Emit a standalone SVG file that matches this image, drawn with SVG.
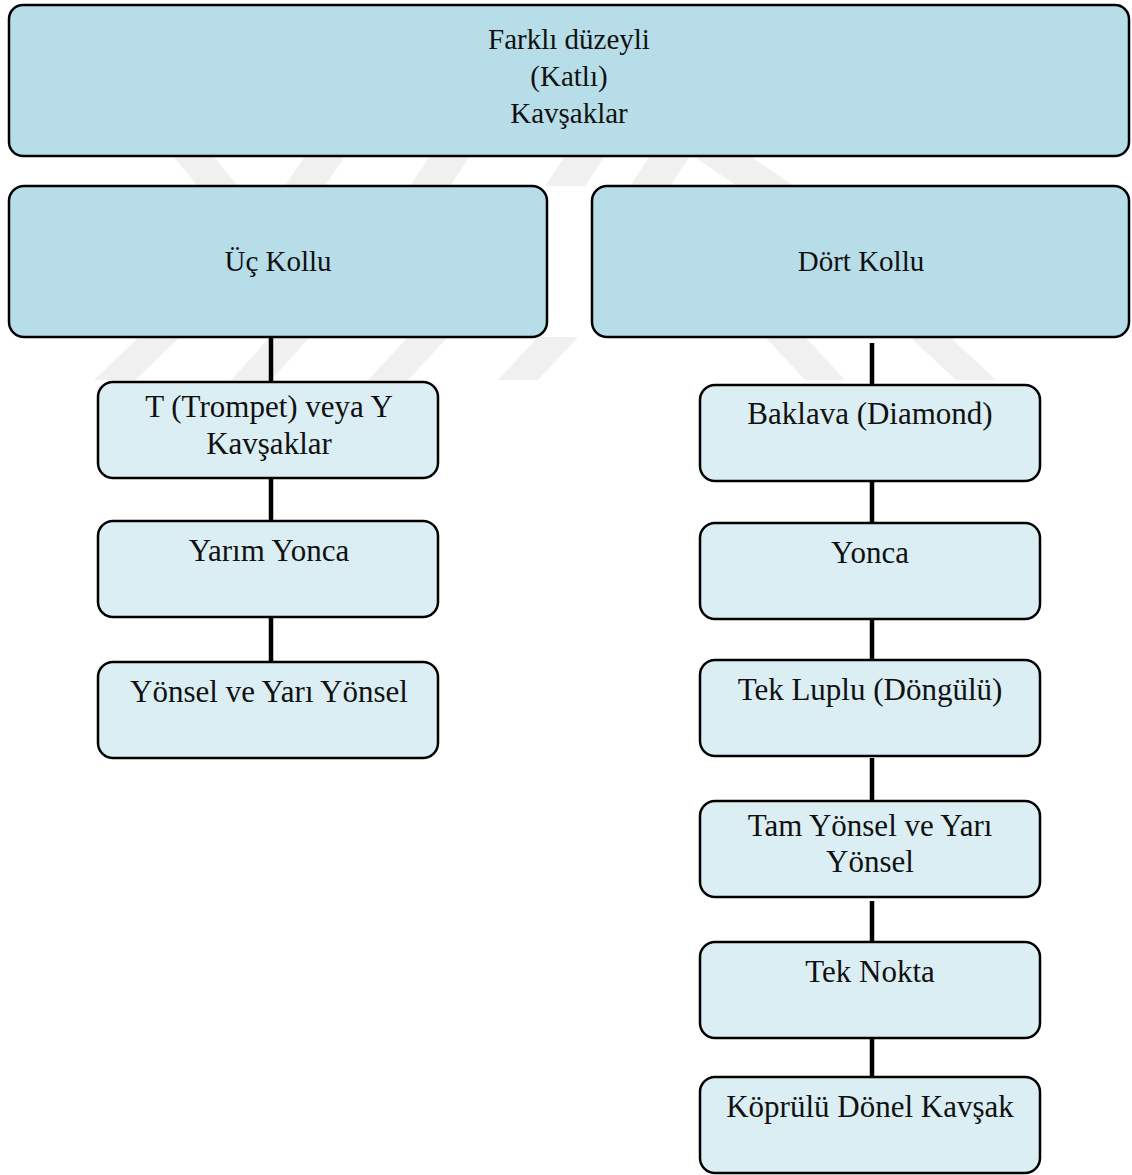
<svg xmlns="http://www.w3.org/2000/svg" width="1132" height="1175" viewBox="0 0 1132 1175">
  <style>
    .main { fill: #b7dde8; stroke: #000; stroke-width: 2.5; }
    .sub { fill: #daeef3; stroke: #000; stroke-width: 2.5; }
    .lbl { font-family: "Liberation Serif", "Times New Roman", serif; fill: #111; text-anchor: middle; }
    .big { font-size: 29px; }
    .small { font-size: 31px; }
    .link { stroke: #000; stroke-width: 4.5; fill: none; }
    .mark { fill: #f0f0f0; }
  </style>
  <rect width="1132" height="1175" fill="#fff"/>

  <!-- faint background stripes -->
  <g id="backdrop">
    <polygon class="mark" points="173,156 213,156 238,186 198,186"/>
    <polygon class="mark" points="305,156 345,156 325,186 285,186"/>
    <polygon class="mark" points="430,156 470,156 450,186 410,186"/>
    <polygon class="mark" points="565,156 605,156 585,186 545,186"/>
    <polygon class="mark" points="650,156 690,156 670,186 630,186"/>
    <polygon class="mark" points="693,156 750,156 794,186 737,186"/>
    <polygon class="mark" points="139,337 180,337 135,380 94,380"/>
    <polygon class="mark" points="270,337 310,337 271,380 231,380"/>
    <polygon class="mark" points="408,337 448,337 408,380 368,380"/>
    <polygon class="mark" points="538,337 578,337 538,380 498,380"/>
    <polygon class="mark" points="765,337 805,337 845,380 805,380"/>
    <polygon class="mark" points="910,337 950,337 996,380 956,380"/>
  </g>

  <!-- connectors -->
  <g id="connectors">
    <line class="link" x1="271" y1="337" x2="271" y2="382"/>
    <line class="link" x1="271" y1="478" x2="271" y2="521"/>
    <line class="link" x1="271" y1="617" x2="271" y2="662"/>
    <line class="link" x1="872" y1="343" x2="872" y2="385"/>
    <line class="link" x1="872" y1="481" x2="872" y2="523"/>
    <line class="link" x1="872" y1="620" x2="872" y2="660"/>
    <line class="link" x1="872" y1="758" x2="872" y2="801"/>
    <line class="link" x1="872" y1="901" x2="872" y2="942"/>
    <line class="link" x1="872" y1="1036" x2="872" y2="1077"/>
  </g>

  <g id="root">
    <rect class="main" x="9" y="5" width="1120" height="151" rx="14"/>
    <text class="lbl big" x="569" y="49">Farklı düzeyli</text>
    <text class="lbl big" x="569" y="86">(Katlı)</text>
    <text class="lbl big" x="569" y="123">Kavşaklar</text>
  </g>

  <g id="uc-kollu">
    <rect class="main" x="9" y="186" width="538" height="151" rx="15"/>
    <text class="lbl big" x="278" y="271">Üç Kollu</text>
  </g>

  <g id="dort-kollu">
    <rect class="main" x="592" y="186" width="537" height="151" rx="15"/>
    <text class="lbl big" x="861" y="271">Dört Kollu</text>
  </g>

  <g id="trompet">
    <rect class="sub" x="98" y="382" width="340" height="96" rx="15"/>
    <text class="lbl small" x="269" y="417">T (Trompet) veya Y</text>
    <text class="lbl small" x="269" y="454">Kavşaklar</text>
  </g>

  <g id="yarim-yonca">
    <rect class="sub" x="98" y="521" width="340" height="96" rx="15"/>
    <text class="lbl small" x="269" y="561">Yarım Yonca</text>
  </g>

  <g id="yonsel">
    <rect class="sub" x="98" y="662" width="340" height="96" rx="15"/>
    <text class="lbl small" x="269" y="702">Yönsel ve Yarı Yönsel</text>
  </g>

  <g id="baklava">
    <rect class="sub" x="700" y="385" width="340" height="96" rx="15"/>
    <text class="lbl small" x="870" y="424">Baklava (Diamond)</text>
  </g>

  <g id="yonca">
    <rect class="sub" x="700" y="523" width="340" height="96" rx="15"/>
    <text class="lbl small" x="870" y="563">Yonca</text>
  </g>

  <g id="tek-luplu">
    <rect class="sub" x="700" y="660" width="340" height="96" rx="15"/>
    <text class="lbl small" x="870" y="700">Tek Luplu (Döngülü)</text>
  </g>

  <g id="tam-yonsel">
    <rect class="sub" x="700" y="801" width="340" height="96" rx="15"/>
    <text class="lbl small" x="870" y="836">Tam Yönsel ve Yarı</text>
    <text class="lbl small" x="870" y="872">Yönsel</text>
  </g>

  <g id="tek-nokta">
    <rect class="sub" x="700" y="942" width="340" height="96" rx="15"/>
    <text class="lbl small" x="870" y="982">Tek Nokta</text>
  </g>

  <g id="koprulu">
    <rect class="sub" x="700" y="1077" width="340" height="96" rx="15"/>
    <text class="lbl small" x="870" y="1117">Köprülü Dönel Kavşak</text>
  </g>
</svg>
